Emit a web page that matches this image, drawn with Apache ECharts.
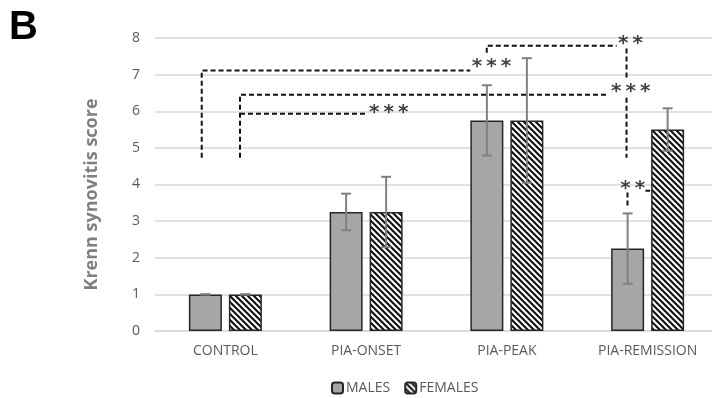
<!DOCTYPE html>
<html>
<head>
<meta charset="utf-8">
<script src="https://cdn.jsdelivr.net/npm/echarts@6/dist/echarts.min.js"></script>
<style>html,body{margin:0;padding:0;background:#fff;overflow:hidden;}#c{width:718px;height:398px;}</style>
</head>
<body>
<div id="c"></div>
<script>
const categories = ['CONTROL', 'PIA-ONSET', 'PIA-PEAK', 'PIA-REMISSION'];
const yTicks = [0, 1, 2, 3, 4, 5, 6, 7, 8];
const malesMean = [1, 3.25, 5.75, 2.25];
const malesErr = [0, 0.5, 0.96, 0.96];
const femalesMean = [1, 3.25, 5.75, 5.5];
const femalesErr = [0, 0.96, 1.7, 0.58];
// significance brackets in data units (x: category units 0..4, y: score)
const bracketPaths = [
  [[0.332, 4.73], [0.332, 7.11], [2.24, 7.11]],
  [[0.604, 4.73], [0.604, 6.45], [3.22, 6.45]],
  [[0.604, 5.93], [1.507, 5.93]],
  [[2.357, 7.6], [2.357, 7.79], [3.28, 7.79]],
  [[3.35, 7.71], [3.35, 6.91]],
  [[3.35, 6.37], [3.35, 4.73]],
  [[3.357, 3.78], [3.357, 3.42]],
  [[3.484, 3.83], [3.518, 3.83]]
];
const starLabels = [
  { x: 2.251, y: 7.31, text: '*\u2009*\u2009*' },
  { x: 3.24, y: 6.64, text: '*\u2009*\u2009*' },
  { x: 1.521, y: 6.08, text: '*\u2009*\u2009*' },
  { x: 3.29, y: 7.95, text: '*\u2009*' },
  { x: 3.305, y: 3.99, text: '*\u2009*' }
];

// hatch pattern
const pat = document.createElement('canvas');
pat.width = 6; pat.height = 6;
(function () {
  const g = pat.getContext('2d');
  g.fillStyle = '#fff'; g.fillRect(0, 0, 6, 6);
  g.strokeStyle = '#111'; g.lineWidth = 2.1;
  g.beginPath();
  g.moveTo(-1, -1); g.lineTo(7, 7);
  g.moveTo(-4, 2); g.lineTo(4, 10);
  g.moveTo(2, -4); g.lineTo(10, 4);
  g.stroke();
})();

const BAR_W = 33, GAP_PX = 7;
const OFF = (BAR_W + GAP_PX) / 2;

function errSeries(means, errs, dir) {
  return {
    type: 'custom',
    xAxisIndex: 0,
    silent: true,
    z: 5,
    data: means.map((m, i) => [i, m - errs[i], m + errs[i]]),
    renderItem: function (params, api) {
      const i = api.value(0);
      const lo = api.coord([i, api.value(1)]);
      const hi = api.coord([i, api.value(2)]);
      const x = lo[0] + dir * OFF;
      const cw = 5;
      const st = { stroke: '#808080', lineWidth: 2 };
      return {
        type: 'group',
        children: [
          { type: 'line', shape: { x1: x, y1: lo[1], x2: x, y2: hi[1] }, style: st },
          { type: 'line', shape: { x1: x - cw, y1: hi[1], x2: x + cw, y2: hi[1] }, style: st },
          { type: 'line', shape: { x1: x - cw, y1: lo[1], x2: x + cw, y2: lo[1] }, style: st }
        ]
      };
    }
  };
}

const series = [
  {
    name: 'MALES', type: 'bar', data: malesMean, barWidth: BAR_W, barGap: (GAP_PX / BAR_W * 100) + '%',
    itemStyle: { color: '#a6a6a6', borderColor: '#262626', borderWidth: 1.5 }
  },
  {
    name: 'FEMALES', type: 'bar', data: femalesMean, barWidth: BAR_W,
    itemStyle: { color: { image: pat, repeat: 'repeat' }, borderColor: '#262626', borderWidth: 1.5 }
  },
  errSeries(malesMean, malesErr, -1),
  errSeries(femalesMean, femalesErr, 1)
];
bracketPaths.forEach(p => series.push({
  type: 'line', xAxisIndex: 1, data: p, symbol: 'none', silent: true, z: 6,
  lineStyle: { color: '#111', width: 2, type: [5, 3] }
}));
series.push({
  type: 'scatter', xAxisIndex: 1, symbolSize: 0, silent: true, z: 7,
  data: starLabels.map(s => ({ value: [s.x, s.y], name: s.text })),
  label: {
    show: true, position: 'right', distance: 0, formatter: '{b}', offset: [0, 4],
    fontFamily: 'DejaVu Sans', fontWeight: 'bold', fontSize: 20, color: '#111'
  }
});

const chart = echarts.init(document.getElementById('c'), null, { renderer: 'canvas' });
chart.setOption({
  animation: false,
  title: { text: 'B', left: 4, top: 3, textStyle: { fontFamily: 'Liberation Sans', fontWeight: 'bold', fontSize: 40, color: '#000' } },
  legend: {
    data: ['MALES', 'FEMALES'], left: 331, top: 381, itemWidth: 11, itemHeight: 11, itemGap: 14, padding: 0,
    textStyle: { fontFamily: 'Open Sans', fontSize: 14, color: '#595959', padding: [0, 0, 0, -2] }
  },
  grid: { left: 155, top: 38, width: 563, height: 293, containLabel: false },
  xAxis: [
    {
      type: 'category', data: categories,
      axisLine: { lineStyle: { color: '#d9d9d9', width: 1.5 } }, axisTick: { show: false },
      axisLabel: { fontFamily: 'Open Sans', fontSize: 14, color: '#595959', margin: 13 }
    },
    { type: 'value', min: 0, max: 4, show: false }
  ],
  yAxis: {
    type: 'value', min: yTicks[0], max: yTicks[yTicks.length - 1], interval: 1,
    name: 'Krenn synovitis score', nameLocation: 'middle', nameGap: 54,
    nameTextStyle: { fontFamily: 'Open Sans', fontWeight: 'bold', fontSize: 18, color: '#7f7f7f', padding: [0, 20, 0, 0] },
    axisLine: { show: false }, axisTick: { show: false },
    splitLine: { lineStyle: { color: '#d9d9d9', width: 1.5 } },
    axisLabel: { fontFamily: 'Open Sans', fontSize: 14, color: '#595959', margin: 15 }
  },
  series: series
});
</script>
</body>
</html>
